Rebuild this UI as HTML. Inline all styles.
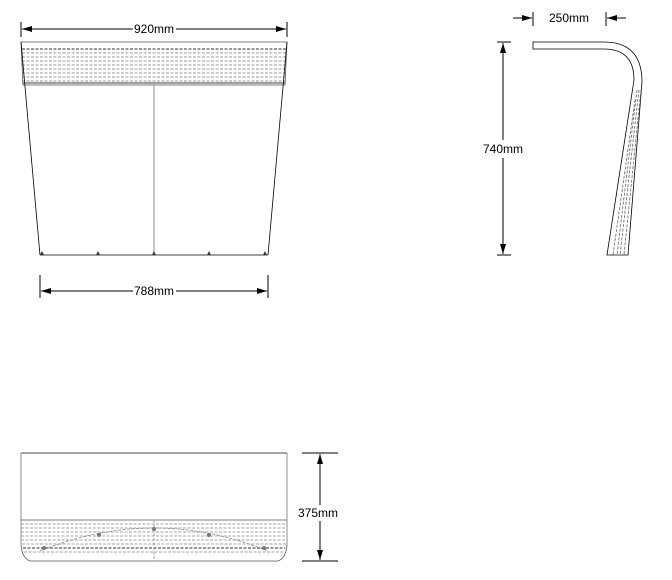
<!DOCTYPE html>
<html><head><style>html,body{margin:0;padding:0;background:#fff}svg{display:block}text{font-family:"Liberation Sans",sans-serif;font-size:12px;fill:#000}</style></head>
<body>
<svg width="672" height="580" viewBox="0 0 672 580" xmlns="http://www.w3.org/2000/svg">
<defs>
<marker id="a" viewBox="0 0 10 6" refX="10" refY="3" markerWidth="10" markerHeight="6" orient="auto-start-reverse" markerUnits="userSpaceOnUse"><path d="M0,0L10,3L0,6z" fill="#000"/></marker>
</defs>
<!-- front view -->
<g stroke="#000" fill="none" stroke-width="1">
<line x1="21" y1="22" x2="21" y2="37"/><line x1="287" y1="22" x2="287" y2="37"/>
<line x1="22" y1="29" x2="133" y2="29" marker-start="url(#a)"/>
<line x1="176" y1="29" x2="286" y2="29" marker-end="url(#a)"/>
<line x1="40" y1="275" x2="40" y2="298"/><line x1="268" y1="275" x2="268" y2="298"/>
<line x1="41" y1="291" x2="133" y2="291" marker-start="url(#a)"/>
<line x1="176" y1="291" x2="267" y2="291" marker-end="url(#a)"/>
</g>
<text x="154" y="33" text-anchor="middle">920mm</text>
<text x="154" y="295" text-anchor="middle">788mm</text>
<g fill="none" stroke-width="0.8">
<path d="M21,42 L287,42 L285,85 L23,85 Z" stroke="#555"/>
<g stroke="#777" stroke-dasharray="3,1.5">
<line x1="22" y1="49" x2="286" y2="49" stroke-width="1.6"/>
<line x1="22" y1="53" x2="286" y2="53"/><line x1="22" y1="57" x2="286" y2="57"/>
<line x1="22" y1="61" x2="286" y2="61"/><line x1="22" y1="65" x2="286" y2="65"/>
<line x1="22" y1="69" x2="286" y2="69"/><line x1="22" y1="73" x2="286" y2="73"/>
<line x1="22" y1="77" x2="286" y2="77"/><line x1="22" y1="81" x2="286" y2="81"/>
</g>
<line x1="23" y1="83" x2="285" y2="83" stroke="#666" stroke-width="1.2"/>
<line x1="21" y1="42" x2="40" y2="255" stroke="#000"/>
<line x1="287" y1="42" x2="268" y2="255" stroke="#000"/>
<line x1="40" y1="255" x2="268" y2="255" stroke="#000"/>
<line x1="154" y1="85" x2="154" y2="255" stroke="#777"/>
</g>
<g fill="#333"><path d="M40,255l2,-4l2,4z"/><path d="M96,255l2,-4l2,4z"/><path d="M152,255l2,-4l2,4z"/><path d="M207,255l2,-4l2,4z"/><path d="M263,255l2,-4l2,4z"/></g>
<!-- side view -->
<g stroke="#000" fill="none" stroke-width="1">
<line x1="533" y1="12" x2="533" y2="26"/><line x1="606" y1="12" x2="606" y2="26"/>
<line x1="513" y1="18" x2="532" y2="18" marker-end="url(#a)"/>
<line x1="626" y1="18" x2="607" y2="18" marker-end="url(#a)"/>
<line x1="497" y1="42" x2="511" y2="42"/><line x1="497" y1="255" x2="511" y2="255"/>
<line x1="503" y1="43" x2="503" y2="140" marker-start="url(#a)"/>
<line x1="503" y1="158" x2="503" y2="254" marker-end="url(#a)"/>
</g>
<rect x="482" y="141" width="44" height="15" fill="#fff"/>
<text x="569" y="22" text-anchor="middle">250mm</text>
<text x="503" y="153" text-anchor="middle">740mm</text>
<g fill="none" stroke-width="0.8">
<path d="M533,42 L604,42 Q642,42 642,82 L628,255 L607,255 L634,80 Q634,49 604,49 L533,49 Z" stroke="#000"/>
<g stroke="#666" stroke-dasharray="3,1.5">
<line x1="637" y1="90" x2="617" y2="255"/><line x1="639" y1="90" x2="620" y2="255"/>
<line x1="641" y1="90" x2="624" y2="255"/><line x1="635" y1="100" x2="613" y2="255"/>
</g>
</g>
<!-- top view -->
<g stroke="#000" fill="none" stroke-width="1">
<line x1="302" y1="453" x2="338" y2="453"/><line x1="302" y1="561" x2="338" y2="561"/>
<line x1="320" y1="454" x2="320" y2="505" marker-start="url(#a)"/>
<line x1="320" y1="521" x2="320" y2="560" marker-end="url(#a)"/>
</g>
<text x="318" y="517" text-anchor="middle">375mm</text>
<g fill="none" stroke-width="0.8">
<line x1="21" y1="453" x2="287" y2="453" stroke="#888" stroke-width="1.4"/>
<line x1="21" y1="453" x2="21" y2="545" stroke="#777"/>
<line x1="287" y1="453" x2="287" y2="545" stroke="#777"/>
<line x1="21" y1="520" x2="287" y2="520" stroke="#555"/>
<g stroke="#888" stroke-dasharray="3,1.5">
<line x1="21" y1="524" x2="287" y2="524"/><line x1="21" y1="528" x2="287" y2="528"/>
<line x1="21" y1="532" x2="287" y2="532"/><line x1="21" y1="536" x2="287" y2="536"/>
<line x1="21" y1="540" x2="287" y2="540"/><line x1="22" y1="544" x2="286" y2="544"/>
<line x1="23" y1="548" x2="285" y2="548" stroke-width="1.8"/>
<line x1="24" y1="552" x2="284" y2="552"/>
<path d="M40,551 Q154,505 268,551"/>
<line x1="154" y1="520" x2="154" y2="561"/>
</g>
<path d="M21,545 Q22,558 30,561 L278,561 Q286,558 287,545" stroke="#555"/>
</g>
<g fill="#777"><circle cx="44" cy="548" r="2"/><circle cx="99" cy="535" r="2"/><circle cx="154" cy="529" r="2"/><circle cx="209" cy="535" r="2"/><circle cx="264" cy="548" r="2"/></g>
</svg>
</body></html>
